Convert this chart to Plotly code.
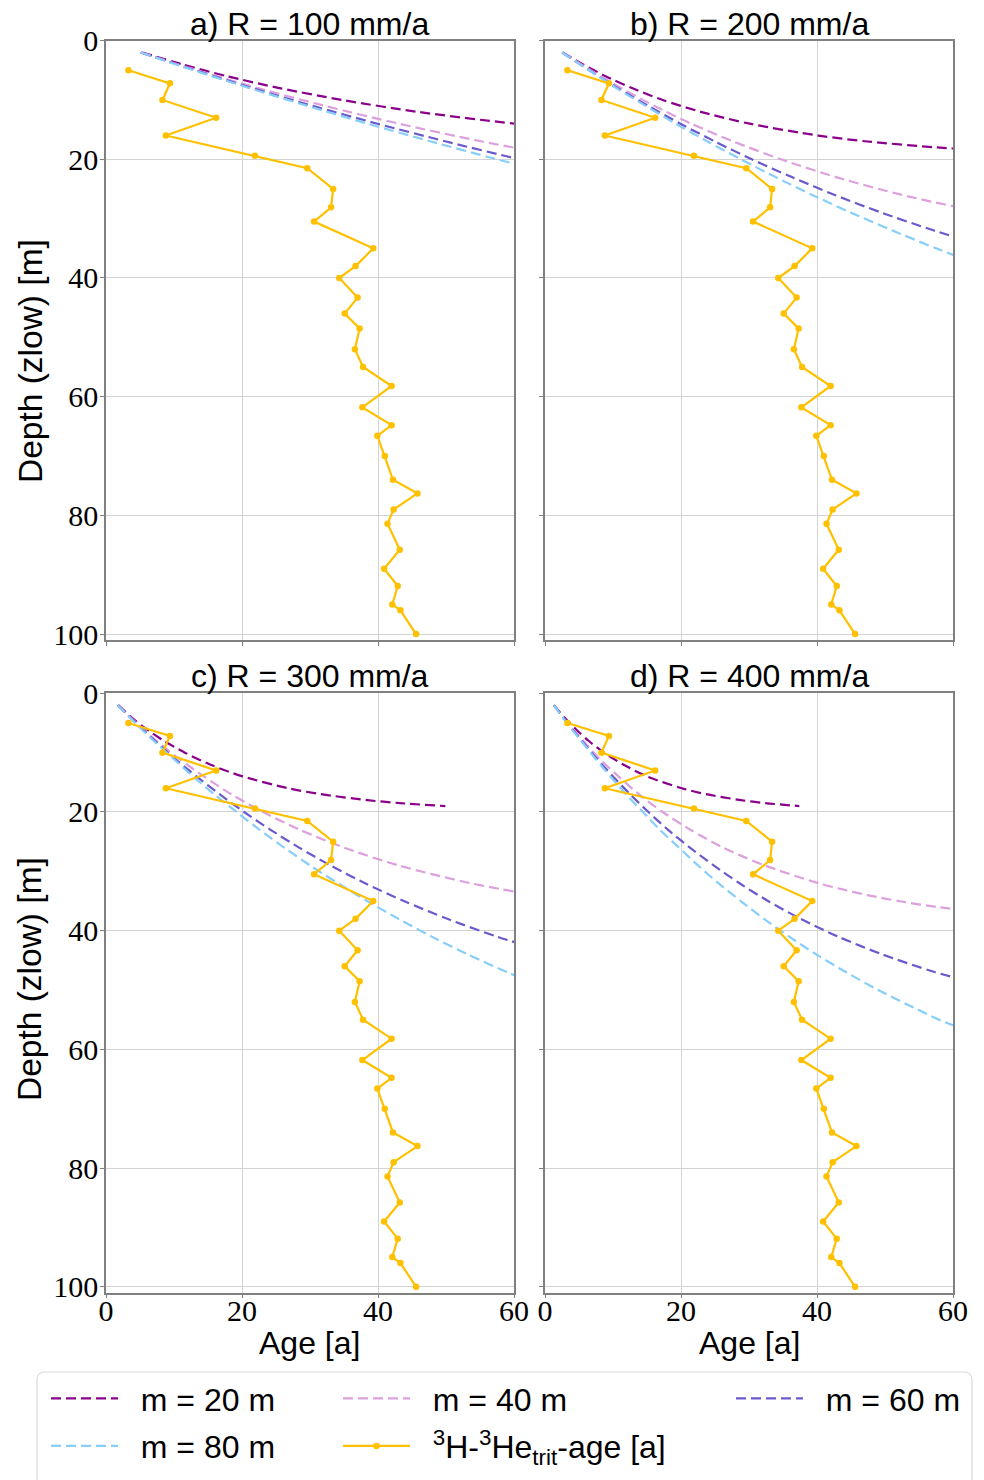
import plotly.graph_objects as go

# ---------------- data ----------------
depth_obs = [5.0, 7.2, 10.0, 13.0, 16.0, 19.4, 21.5, 25.0, 28.1, 30.5, 35.0, 38.0, 40.0,
             43.3, 46.0, 48.5, 52.0, 55.0, 58.2, 61.8, 64.8, 66.6, 70.0, 74.0, 76.3, 79.0,
             81.4, 85.8, 89.0, 91.9, 95.0, 96.0, 100.0]
age_obs = [3.3, 9.4, 8.3, 16.2, 8.8, 21.9, 29.6, 33.4, 33.1, 30.6, 39.3, 36.7, 34.3,
           37.0, 35.1, 37.3, 36.6, 37.8, 42.0, 37.7, 42.0, 39.9, 41.0, 42.2, 45.8, 42.3,
           41.4, 43.2, 40.9, 42.9, 42.1, 43.3, 45.6]

z20 = [2, 4, 6, 8, 10, 12, 14, 16, 17, 18, 18.5, 19]
z40 = [2, 5, 8, 11, 14, 17, 20, 23, 26, 29, 32, 33, 34, 35, 36, 37]
z60 = [2, 5, 8, 11, 14, 17, 20, 23, 26, 29, 32, 35, 38, 41, 44, 47, 50]
z80 = [2, 5, 8, 11, 14, 17, 20, 23, 26, 29, 32, 35, 38, 41, 44, 47, 50, 53, 56, 59, 62]

age20_a = [5.3, 11.2, 17.8, 25.5, 34.7, 45.8, 60.2, 80.5]
age20_b = [2.6, 5.6, 8.9, 12.8, 17.3, 22.9, 30.1, 40.2, 47.4, 57.6, 64.8]
age20_c = [1.8, 3.7, 5.9, 8.5, 11.6, 15.3, 20.1, 26.8, 31.6, 38.4, 43.2, 49.9]
age20_d = [1.3, 2.8, 4.5, 6.4, 8.7, 11.5, 15.0, 20.1, 23.7, 28.8, 32.4, 37.4]

age40_a = [5.1, 13.4, 22.3, 32.2, 43.1, 55.3, 69.3]
age40_b = [2.6, 6.7, 11.2, 16.1, 21.5, 27.7, 34.7, 42.8, 52.5, 64.5]
age40_c = [1.7, 4.5, 7.4, 10.7, 14.4, 18.4, 23.1, 28.5, 35.0, 43.0, 53.6, 58.1, 63.2]
age40_d = [1.3, 3.3, 5.6, 8.0, 10.8, 13.8, 17.3, 21.4, 26.2, 32.3, 40.2, 43.6, 47.4, 52.0, 57.6, 64.8]

age60_a = [5.1, 13.1, 21.5, 30.4, 39.9, 50.0, 60.8, 72.5]
age60_b = [2.5, 6.5, 10.7, 15.2, 19.9, 25.0, 30.4, 36.3, 42.6, 49.5, 57.2, 65.7]
age60_c = [1.7, 4.4, 7.2, 10.1, 13.3, 16.7, 20.3, 24.2, 28.4, 33.0, 38.1, 43.8, 50.2, 57.5, 66.1]
age60_d = [1.3, 3.3, 5.4, 7.6, 10.0, 12.5, 15.2, 18.1, 21.3, 24.8, 28.6, 32.8, 37.6, 43.1, 49.6, 57.4, 67.2]

age80_a = [5.1, 12.9, 21.1, 29.6, 38.5, 47.8, 57.5, 67.8]
age80_b = [2.5, 6.5, 10.5, 14.8, 19.2, 23.9, 28.8, 33.9, 39.3, 45.0, 51.1, 57.5, 64.4]
age80_c = [1.7, 4.3, 7.0, 9.9, 12.8, 15.9, 19.2, 22.6, 26.2, 30.0, 34.1, 38.4, 43.0, 47.9, 53.2, 59.0, 65.4]
age80_d = [1.3, 3.2, 5.3, 7.4, 9.6, 11.9, 14.4, 16.9, 19.7, 22.5, 25.5, 28.8, 32.2, 35.9, 39.9, 44.3, 49.0, 54.3, 60.2, 74.6]

panel_titles = ["a) R = 100 mm/a", "b) R = 200 mm/a", "c) R = 300 mm/a", "d) R = 400 mm/a"]
model_names = ["m = 20 m", "m = 40 m", "m = 60 m", "m = 80 m"]
obs_name = "<sup>3</sup>H-<sup>3</sup>He<sub>trit</sub>-age [a]"
x_ticks = [0, 20, 40, 60]
y_ticks = [0, 20, 40, 60, 80, 100]

# ---------------- styling ----------------
W, H = 984, 1480
colors = ["#8B008B", "#DDA0DD", "#6A5ACD", "#87CEFA"]
obs_color = "#FFC000"
legends = ["legend", "legend2", "legend3", "legend"]
SANS = "Liberation Sans, Arial, sans-serif"
SERIF = "Liberation Serif, Times New Roman, serif"
FS = 32
GAP = "\u00a0\u00a0"  # spacing between legend symbol and label

def px_x(px):
    return px / W

def px_y(py):
    return 1 - py / H

fig = go.Figure()

depths = [z20, z40, z60, z80]
ages_by_panel = [
    [age20_a, age40_a, age60_a, age80_a],
    [age20_b, age40_b, age60_b, age80_b],
    [age20_c, age40_c, age60_c, age80_c],
    [age20_d, age40_d, age60_d, age80_d],
]

for p in range(4):
    xa = "x" if p == 0 else f"x{p+1}"
    ya = "y" if p == 0 else f"y{p+1}"
    for k in range(4):
        ages = ages_by_panel[p][k]
        fig.add_trace(go.Scatter(
            x=ages, y=depths[k][:len(ages)], mode="lines",
            line=dict(color=colors[k], width=2.2, dash="10px,5px", shape="spline", smoothing=0.8),
            name=GAP + model_names[k], legendgroup=model_names[k], legend=legends[k],
            showlegend=(p == 0), xaxis=xa, yaxis=ya,
        ))
    fig.add_trace(go.Scatter(
        x=age_obs, y=depth_obs, mode="lines+markers",
        line=dict(color=obs_color, width=2.2),
        marker=dict(color=obs_color, size=6.5),
        name=GAP + obs_name, legendgroup="obs", legend="legend2",
        showlegend=(p == 0), xaxis=xa, yaxis=ya,
    ))

axis_common = dict(
    showline=True, linecolor="#808080", linewidth=1.5, mirror=True,
    ticks="outside", ticklen=4, tickwidth=1.2, tickcolor="#808080",
    showgrid=True, gridcolor="#d3d3d3", gridwidth=1, zeroline=False,
    automargin=False,
    tickfont=dict(family=SERIF, size=30, color="black"),
)

xdom_l = [px_x(106), px_x(514)]
xdom_r = [px_x(545), px_x(953)]
ydom_t = [px_y(640), px_y(40.6)]
ydom_b = [px_y(1292.7), px_y(693.3)]

layout_axes = {}
specs = [(xdom_l, ydom_t), (xdom_r, ydom_t), (xdom_l, ydom_b), (xdom_r, ydom_b)]
for p, (xd, yd) in enumerate(specs):
    xn = "xaxis" if p == 0 else f"xaxis{p+1}"
    yn = "yaxis" if p == 0 else f"yaxis{p+1}"
    xa_anchor = "y" if p == 0 else f"y{p+1}"
    ya_anchor = "x" if p == 0 else f"x{p+1}"
    layout_axes[xn] = dict(axis_common, domain=xd, anchor=xa_anchor, range=[0, 60],
                           tickvals=x_ticks, showticklabels=(p >= 2))
    layout_axes[yn] = dict(axis_common, domain=yd, anchor=ya_anchor, range=[101, 0],
                           tickvals=y_ticks, showticklabels=(p % 2 == 0))

annotations = []
title_pos = [(309.5, 24), (749, 24), (309.5, 676), (749, 676)]
for t, (cx, cy) in zip(panel_titles, title_pos):
    annotations.append(dict(text=t, x=px_x(cx), y=px_y(cy), xref="paper", yref="paper",
                            showarrow=False, xanchor="center", yanchor="middle",
                            font=dict(family=SANS, size=FS, color="black")))
for cx in (309.5, 749):
    annotations.append(dict(text="Age [a]", x=px_x(cx), y=px_y(1343), xref="paper", yref="paper",
                            showarrow=False, xanchor="center", yanchor="middle",
                            font=dict(family=SANS, size=FS, color="black")))
for cy in (361, 979):
    annotations.append(dict(text="Depth (zlow) [m]", x=px_x(30), y=px_y(cy), xref="paper", yref="paper",
                            showarrow=False, xanchor="center", yanchor="middle", textangle=-90,
                            font=dict(family=SANS, size=33.5, color="black")))

# legend frame (rounded box)
x0, x1, y0, y1, r = 37, 972, 1372, 1492, 8
def P(x, y):
    return f"{px_x(x):.5f},{px_y(y):.5f}"
path = (f"M{P(x0 + r, y0)} L{P(x1 - r, y0)} Q{P(x1, y0)} {P(x1, y0 + r)} "
        f"L{P(x1, y1)} L{P(x0, y1)} L{P(x0, y0 + r)} Q{P(x0, y0)} {P(x0 + r, y0)} Z")
shapes = [dict(type="path", path=path, xref="paper", yref="paper",
               line=dict(color="#d9d9d9", width=1.2), fillcolor="rgba(255,255,255,0)", layer="below")]

leg_common = dict(orientation="v", xanchor="left", yanchor="top", bgcolor="rgba(0,0,0,0)",
                  font=dict(family=SANS, size=FS, color="black"), tracegroupgap=3,
                  itemwidth=67)

fig.update_layout(
    width=W, height=H, margin=dict(l=0, r=0, t=0, b=0, autoexpand=False),
    paper_bgcolor="white", plot_bgcolor="white",
    annotations=annotations, shapes=shapes,
    legend=dict(leg_common, x=px_x(46), y=px_y(1371)),
    legend2=dict(leg_common, x=px_x(338), y=px_y(1371)),
    legend3=dict(leg_common, x=px_x(731), y=px_y(1371)),
    **layout_axes,
)

# pull tick labels closer to the axes
try:
    fig.update_xaxes(ticklabelstandoff=-13)
    fig.update_yaxes(ticklabelstandoff=-4)
except Exception:
    pass

fig.write_html("out.html")
